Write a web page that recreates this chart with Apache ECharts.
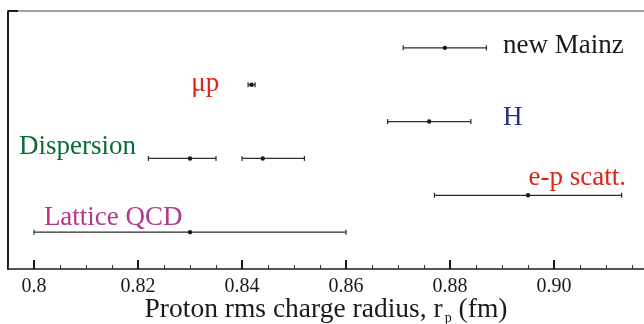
<!DOCTYPE html>
<html>
<head>
<meta charset="utf-8">
<title>Proton rms charge radius</title>
<script src="https://cdn.jsdelivr.net/npm/echarts@6/dist/echarts.min.js"></script>
<style>
  html, body { margin: 0; padding: 0; background: #fff; }
  #chart { width: 644px; height: 324px; }
</style>
</head>
<body>
<div id="chart"></div>
<script>
// Measurement groups, listed top to bottom
const groups = ['new Mainz', 'μp', 'H', 'Dispersion', 'e-p scatt.', 'Lattice QCD'];
const groupColors = ['#1a1a1a', '#e2231a', '#2d2f7f', '#0b6b37', '#e2231a', '#b2388b'];

// Individual results (fm): central value, lower and upper uncertainty, owning group
const centers   = [0.879, 0.84184, 0.876, 0.830, 0.844, 0.895, 0.830];
const errLow    = [0.008, 0.00067, 0.008, 0.008, 0.004, 0.018, 0.030];
const errHigh   = [0.008, 0.00067, 0.008, 0.005, 0.008, 0.018, 0.030];
const groupOf   = [0, 1, 2, 3, 3, 4, 5];

// Labelled major ticks on the radius axis
const tickValues = [0.80, 0.82, 0.84, 0.86, 0.88, 0.90];
const tickLabels = ['0.8', '0.82', '0.84', '0.86', '0.88', '0.90'];

// Where each group name is written, in axis units, and which side it extends to
const labelPlacement = [
  { at: [0.8902, 6.06], align: 'left' },
  { at: [0.8356, 5.03], align: 'right' },
  { at: [0.8902, 4.10], align: 'left' },
  { at: [0.7971, 3.31], align: 'left' },
  { at: [0.8951, 2.47], align: 'left' },
  { at: [0.8019, 1.38], align: 'left' }
];

const X_MIN = 0.795, X_MAX = 0.9173;
const ROWS = groups.length + 1;
const serif = '"Liberation Serif", "DejaVu Serif", serif';

const rowOf = g => groups.length - g;

const barData = centers.map((c, i) => [c, c - errLow[i], c + errHigh[i], rowOf(groupOf[i])]);

const labelData = groups.map((name, g) => ({
  name: name,
  value: labelPlacement[g].at,
  label: { color: groupColors[g], align: labelPlacement[g].align }
}));

function renderErrorBar(params, api) {
  const y = api.value(3);
  const mid = api.coord([api.value(0), y]);
  const lo = api.coord([api.value(1), y]);
  const hi = api.coord([api.value(2), y]);
  const cap = 2.5;
  const stroke = { stroke: '#2e2e2e', lineWidth: 1.25 };
  return {
    type: 'group',
    children: [
      { type: 'line', shape: { x1: lo[0], y1: lo[1], x2: hi[0], y2: hi[1] }, style: stroke },
      { type: 'line', shape: { x1: lo[0], y1: lo[1] - cap, x2: lo[0], y2: lo[1] + cap }, style: stroke },
      { type: 'line', shape: { x1: hi[0], y1: hi[1] - cap, x2: hi[0], y2: hi[1] + cap }, style: stroke },
      { type: 'circle', shape: { cx: mid[0], cy: mid[1], r: 2.2 }, style: { fill: '#1a1a1a' } }
    ]
  };
}

const chart = echarts.init(document.getElementById('chart'), null, { renderer: 'canvas' });

chart.setOption({
  animation: false,
  backgroundColor: '#fff',
  grid: { left: 8, top: 11, right: 0, bottom: 55, containLabel: false, outerBoundsMode: 'none' },
  xAxis: [
    {
      // minor ticks and the axis line
      type: 'value', min: X_MIN, max: X_MAX, interval: 0.005, position: 'bottom',
      axisLine: { show: true, lineStyle: { color: '#1a1a1a', width: 1.5 } },
      axisTick: { show: true, inside: true, length: 4, lineStyle: { color: '#333', width: 1 } },
      axisLabel: { show: false },
      splitLine: { show: false },
      name: '{a|Proton rms charge radius, r}{s|p}{a| (fm)}',
      nameLocation: 'middle',
      nameGap: 25,
      nameTextStyle: {
        rich: {
          a: { fontFamily: serif, fontSize: 27.5, color: '#1a1a1a' },
          s: { fontFamily: serif, fontSize: 14, color: '#1a1a1a', lineHeight: 31, verticalAlign: 'bottom', padding: [0, 0, 0, 2] }
        }
      }
    },
    {
      // labelled major ticks
      type: 'value', min: X_MIN, max: X_MAX, position: 'bottom',
      axisLine: { show: false },
      axisTick: { show: true, inside: true, length: 9, customValues: tickValues, lineStyle: { color: '#1a1a1a', width: 2 } },
      axisLabel: {
        show: true, customValues: tickValues, margin: 8,
        fontFamily: serif, fontSize: 20, color: '#1a1a1a',
        formatter: v => {
          const k = tickValues.findIndex(t => Math.abs(t - v) < 1e-9);
          return k >= 0 ? tickLabels[k] : '';
        }
      },
      splitLine: { show: false }
    },
    {
      // upper frame
      type: 'value', min: X_MIN, max: X_MAX, position: 'top',
      axisLine: { show: true, lineStyle: { color: '#858585', width: 1.5 } },
      axisTick: { show: false },
      axisLabel: { show: false },
      splitLine: { show: false }
    }
  ],
  yAxis: {
    type: 'value', min: 0, max: ROWS,
    axisLine: { show: true, lineStyle: { color: '#1a1a1a', width: 2 } },
    axisTick: { show: true, inside: true, length: 10, customValues: [ROWS], lineStyle: { color: '#1a1a1a', width: 2 } },
    axisLabel: { show: false },
    splitLine: { show: false }
  },
  series: [
    {
      type: 'custom',
      name: 'results',
      xAxisIndex: 0,
      renderItem: renderErrorBar,
      encode: { x: [0, 1, 2], y: 3 },
      data: barData,
      clip: false
    },
    {
      type: 'scatter',
      name: 'group names',
      xAxisIndex: 0,
      symbolSize: 0,
      silent: true,
      itemStyle: { opacity: 1 },
      label: {
        show: true,
        position: 'inside',
        verticalAlign: 'middle',
        formatter: p => p.name,
        fontFamily: serif,
        fontSize: 27
      },
      data: labelData
    }
  ]
});
</script>
</body>
</html>
